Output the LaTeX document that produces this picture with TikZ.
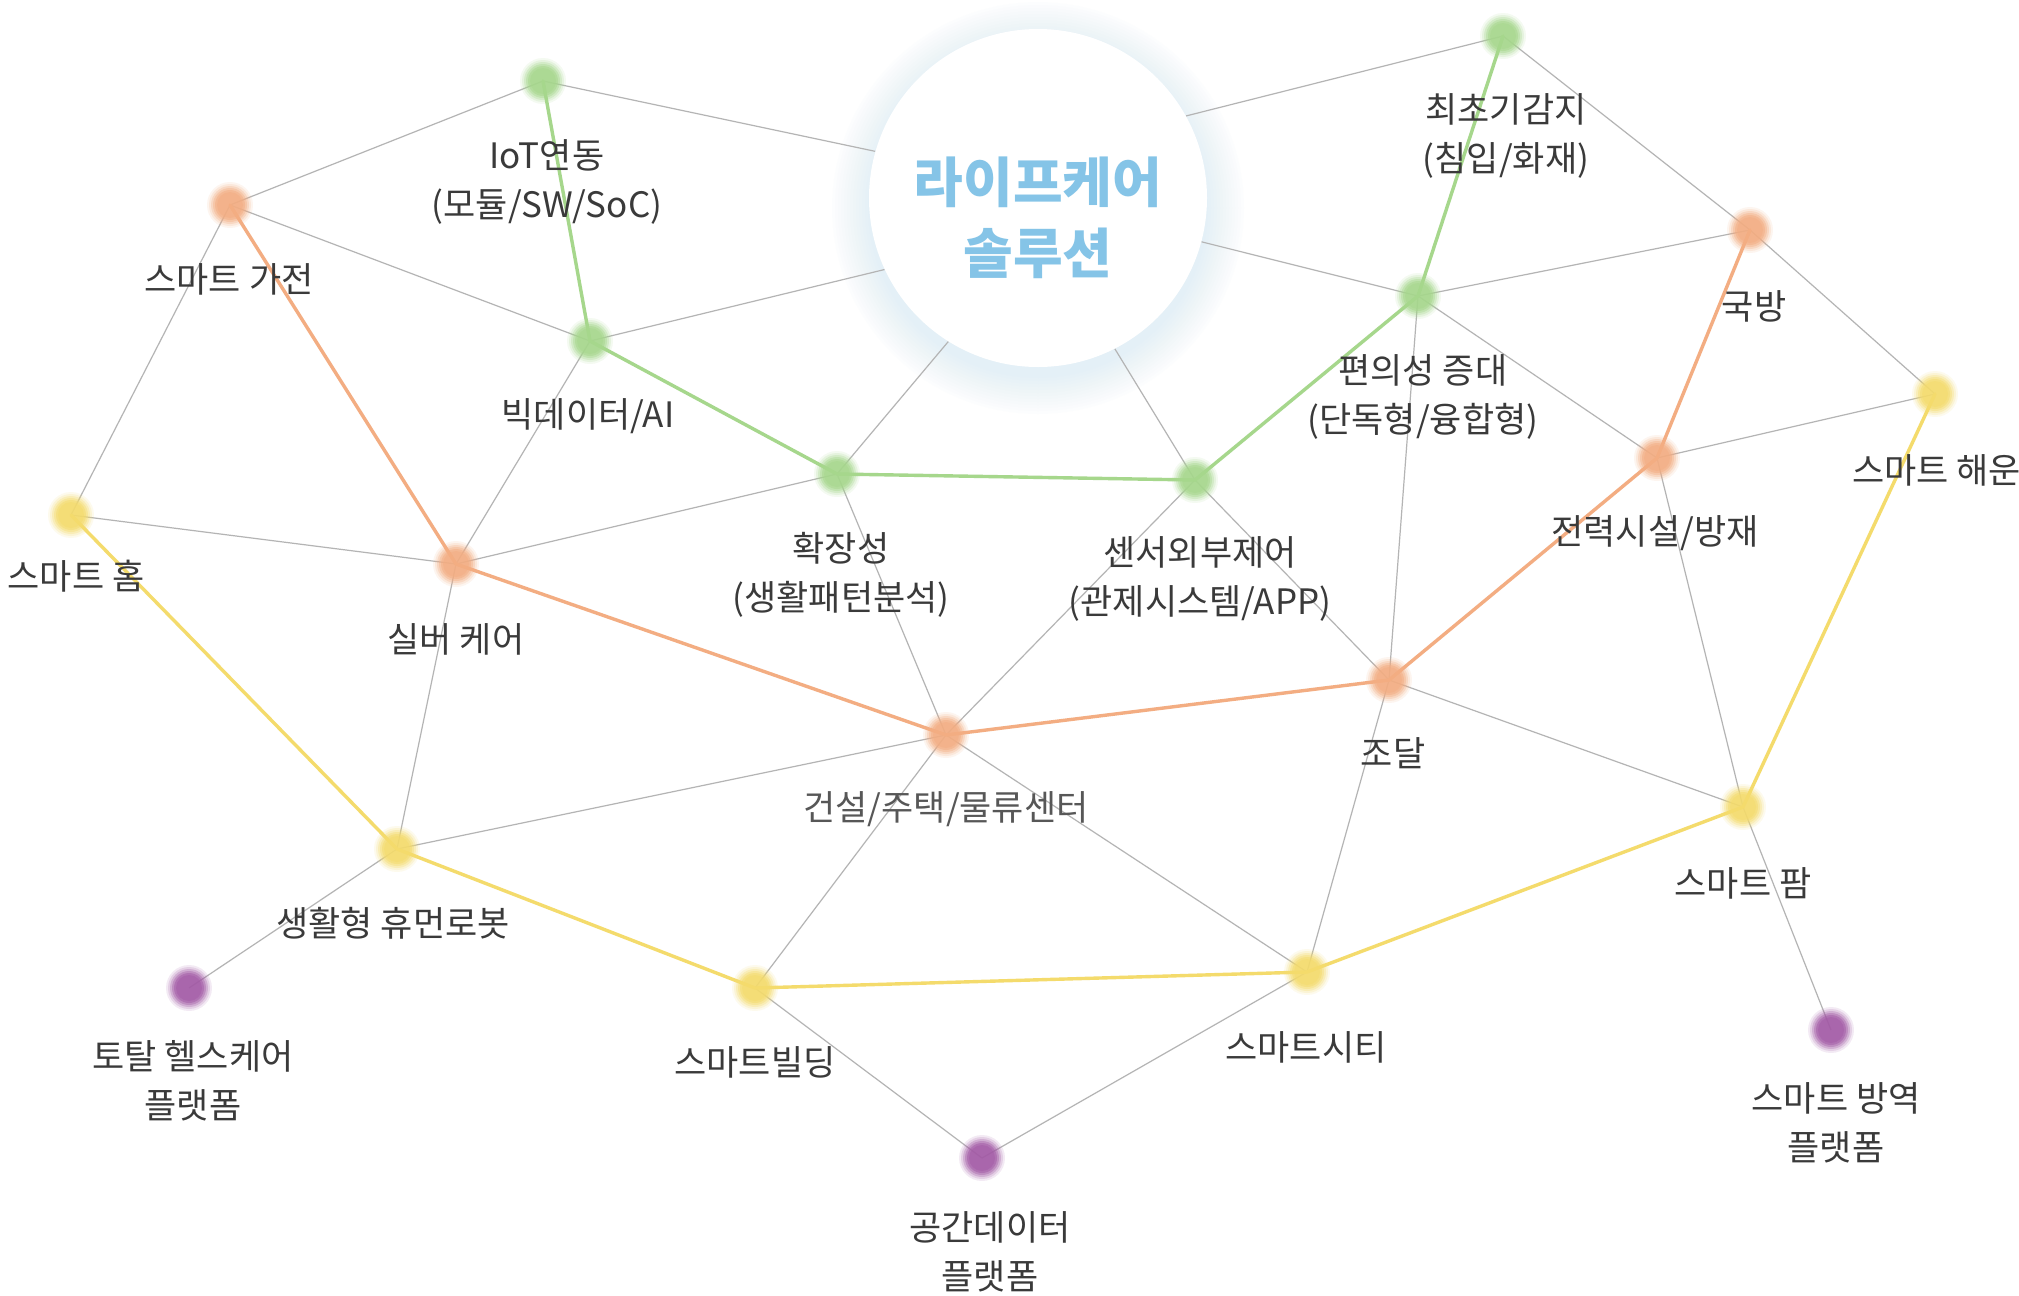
\documentclass[tikz,border=0pt]{standalone}
\usepackage{fontspec}
\setmainfont{Noto Sans CJK KR}
\definecolor{txt}{HTML}{3A3A3A}
\definecolor{edge}{HTML}{B4B4B4}
\definecolor{cgreen}{HTML}{A6D78C}
\definecolor{corange}{HTML}{F3AD82}
\definecolor{cyellow}{HTML}{F4DB6C}
\definecolor{cpurple}{HTML}{A35AA6}
\definecolor{cblue}{HTML}{85C4E7}
\definecolor{glow}{HTML}{C4E0F7}
\newcommand\fuzzydot[2]{%
  \foreach \rr/\oo in {23/0.12,21/0.18,19/0.28,17/0.38,15/0.5,13/0.5}
    \fill[#2, opacity=\oo] (#1) circle (\rr);}
\begin{document}
\begin{tikzpicture}[x=1pt,y=-1pt,
  gline/.style={draw=edge, line width=1.2pt},
  cline/.style={line width=3.4pt, line cap=round},
  lbl/.style={text=txt, align=center, font=\fontsize{35}{49}\selectfont, inner sep=0pt}]
\useasboundingbox (0,0) rectangle (2019,1296);
\fill[white] (0,0) rectangle (2019,1296);
% glow
\foreach \rr in {206,203,...,170}
  \fill[glow, opacity=0.035] (1038,208) circle (\rr);
\node[circle, minimum size=338pt, inner sep=0pt] (ctr) at (1038,198) {};
% dot coordinates
\coordinate (iot) at (543,81);
\coordinate (gajeon) at (230,205);
\coordinate (bigdata) at (590,341);
\coordinate (expand) at (837,474);
\coordinate (sensor) at (1195,480);
\coordinate (conv) at (1418,296);
\coordinate (early) at (1503,36);
\coordinate (defense) at (1750,230);
\coordinate (marine) at (1935,394);
\coordinate (power) at (1657,458);
\coordinate (procure) at (1389,680);
\coordinate (farm) at (1743,807);
\coordinate (quar) at (1831,1030);
\coordinate (city) at (1307,972);
\coordinate (spatial) at (982,1158);
\coordinate (building) at (755,988);
\coordinate (constr) at (946,735);
\coordinate (robot) at (397,849);
\coordinate (health) at (189,988);
\coordinate (silver) at (456,564);
\coordinate (home) at (71,515);
% gray edges
\draw[gline] (iot) -- (gajeon);
\draw[gline] (iot) -- (ctr.164.3);
\draw[gline] (gajeon) -- (bigdata);
\draw[gline] (gajeon) -- (home);
\draw[gline] (bigdata) -- (ctr.205.8);
\draw[gline] (bigdata) -- (silver);
\draw[gline] (home) -- (silver);
\draw[gline] (silver) -- (expand);
\draw[gline] (silver) -- (robot);
\draw[gline] (expand) -- (ctr.238.1);
\draw[gline] (expand) -- (constr);
\draw[gline] (ctr.297) -- (sensor);
\draw[gline] (ctr.29.8) -- (early);
\draw[gline] (ctr.345.2) -- (conv);
\draw[gline] (sensor) -- (procure);
\draw[gline] (sensor) -- (constr);
\draw[gline] (early) -- (defense);
\draw[gline] (conv) -- (defense);
\draw[gline] (conv) -- (power);
\draw[gline] (conv) -- (procure);
\draw[gline] (defense) -- (marine);
\draw[gline] (power) -- (marine);
\draw[gline] (power) -- (farm);
\draw[gline] (procure) -- (farm);
\draw[gline] (procure) -- (city);
\draw[gline] (farm) -- (quar);
\draw[gline] (constr) -- (robot);
\draw[gline] (constr) -- (building);
\draw[gline] (constr) -- (city);
\draw[gline] (robot) -- (health);
\draw[gline] (building) -- (spatial);
\draw[gline] (city) -- (spatial);
% coloured paths
\draw[cline, cgreen] (iot) -- (bigdata) -- (expand) -- (sensor) -- (conv) -- (early);
\draw[cline, corange] (gajeon) -- (silver) -- (constr) -- (procure) -- (power) -- (defense);
\draw[cline, cyellow] (home) -- (robot) -- (building) -- (city) -- (farm) -- (marine);
% centre circle
\fill[white] (ctr.center) circle (169);
\node[text=cblue, align=center, font=\bfseries\fontsize{54}{71}\selectfont, inner sep=0pt] (title) at (1038,218) {라이프케어\\솔루션};
% dots
\fuzzydot{iot}{cgreen}
\fuzzydot{bigdata}{cgreen}
\fuzzydot{expand}{cgreen}
\fuzzydot{sensor}{cgreen}
\fuzzydot{conv}{cgreen}
\fuzzydot{early}{cgreen}
\fuzzydot{gajeon}{corange}
\fuzzydot{silver}{corange}
\fuzzydot{constr}{corange}
\fuzzydot{procure}{corange}
\fuzzydot{power}{corange}
\fuzzydot{defense}{corange}
\fuzzydot{home}{cyellow}
\fuzzydot{robot}{cyellow}
\fuzzydot{building}{cyellow}
\fuzzydot{city}{cyellow}
\fuzzydot{farm}{cyellow}
\fuzzydot{marine}{cyellow}
\fuzzydot{health}{cpurple}
\fuzzydot{spatial}{cpurple}
\fuzzydot{quar}{cpurple}
% labels
\node[lbl] (l-iot) at (547,182) {IoT연동\\(모듈/SW/SoC)};
\node[lbl] (l-gajeon) at (229,279) {스마트 가전};
\node[lbl] (l-bigdata) at (588,416) {빅데이터/AI};
\node[lbl] (l-expand) at (841,575) {확장성\\(생활패턴분석)};
\node[lbl] (l-sensor) at (1200,579) {센서외부제어\\(관제시스템/APP)};
\node[lbl] (l-conv) at (1423,397) {편의성 증대\\(단독형/융합형)};
\node[lbl] (l-early) at (1506,136) {최초기감지\\(침입/화재)};
\node[lbl] (l-defense) at (1754,306) {국방};
\node[lbl, anchor=west] (l-marine) at (1852,470) {스마트 해운};
\node[lbl] (l-power) at (1655,533) {전력시설/방재};
\node[lbl] (l-procure) at (1393,753) {조달};
\node[lbl] (l-farm) at (1743,883) {스마트 팜};
\node[lbl] (l-quar) at (1836,1123) {스마트 방역\\플랫폼};
\node[lbl] (l-city) at (1306,1047) {스마트시티};
\node[lbl] (l-spatial) at (990,1252) {공간데이터\\플랫폼};
\node[lbl] (l-building) at (755,1062) {스마트빌딩};
\node[lbl, text=txt!85] (l-constr) at (946,809) {건설/주택/물류센터};
\node[lbl] (l-robot) at (393,923) {생활형 휴먼로봇};
\node[lbl] (l-health) at (193,1081) {토탈 헬스케어\\플랫폼};
\node[lbl] (l-silver) at (456,639) {실버 케어};
\node[lbl] (l-home) at (76,576) {스마트 홈};
\end{tikzpicture}
\end{document}
